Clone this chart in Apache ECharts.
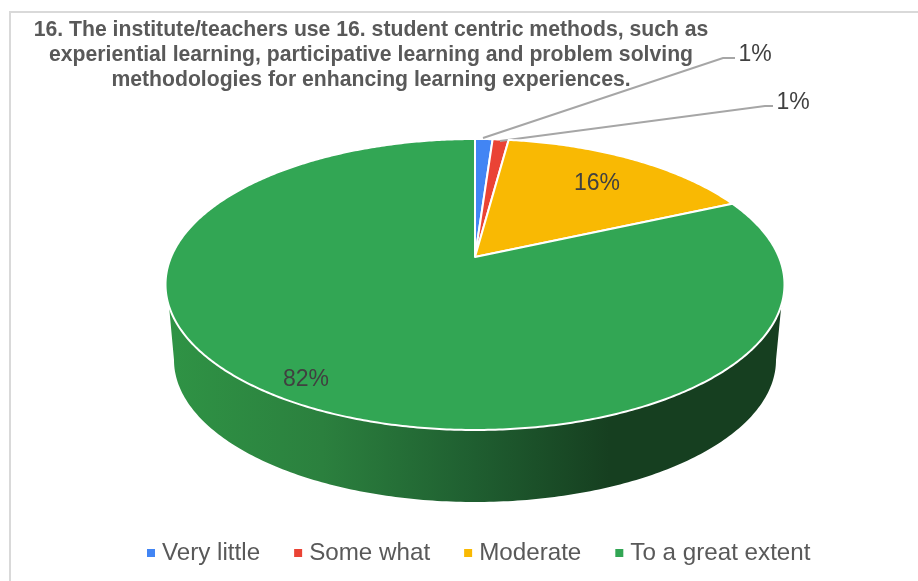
<!DOCTYPE html>
<html>
<head>
<meta charset="utf-8">
<title>Student centric methods</title>
<script src="https://cdn.jsdelivr.net/npm/echarts@6/dist/echarts.min.js"></script>
<style>
    html, body { margin: 0; padding: 0; background: #fff; }
    #chart { width: 918px; height: 581px; }
</style>
</head>
<body>
<div id="chart"></div>
<script>
// 数据
const categories = ['Very little', 'Some what', 'Moderate', 'To a great extent'];
const values = [1.1, 1.0, 16.2, 81.7];
const colors = ['#4285f4', '#ea4335', '#f9b903', '#32a654'];
const titleLines = [
    '16. The institute/teachers use 16. student centric methods, such as',
    'experiential learning, participative learning and problem solving',
    'methodologies for enhancing learning experiences.'
];

// 饼图透视参数
const apexX = 475, apexY = 257;
const persp = -0.189, scaleX = 303.9, scaleY = 140.3;
const sideCy = 360, sideRx = 301, sideRy = 142, sideTopY = 305;

// 标签位置 (with leader lines for the two small slices)
const labelPos = [[755, 55], [793, 103], [597, 184], [306, 380]];
const leaderLines = [
    [[483, 138], [723, 58], [735, 58]],
    [[500, 141], [765, 106], [773, 106]],
    null,
    null
];

const total = values.reduce((a, b) => a + b, 0);

// 圆盘上的角度 -> 屏幕坐标
function discPoint(theta) {
    const u = Math.sin(theta), v = -Math.cos(theta);
    const w = 1 + persp * v;
    return [apexX + scaleX * u / w, apexY + scaleY * v / w];
}

function arcPoints(from, to) {
    const pts = [];
    const steps = Math.max(4, Math.ceil((to - from) / 0.01));
    for (let i = 0; i <= steps; i++) {
        pts.push(discPoint(from + (to - from) * i / steps));
    }
    return pts;
}

function renderSlice(index) {
    let before = 0;
    for (let i = 0; i < index; i++) before += values[i];
    const from = before / total * Math.PI * 2;
    const to = (before + values[index]) / total * Math.PI * 2;
    const children = [];

    // 前侧面，只有跨过正下方的扇区才看得见
    if (from < Math.PI && to > Math.PI) {
        const front = arcPoints(from, to).filter(p => p[1] >= sideTopY);
        const bottom = [];
        for (let i = 200; i >= 0; i--) {
            const t = Math.PI * i / 200;
            bottom.push([apexX + sideRx * Math.cos(t), sideCy + sideRy * Math.sin(t)]);
        }
        children.push({
            type: 'polygon',
            shape: { points: front.concat(bottom) },
            style: {
                fill: new echarts.graphic.LinearGradient(0, 0, 1, 0, [
                    { offset: 0, color: '#2f9345' },
                    { offset: 0.25, color: '#2b803e' },
                    { offset: 0.5, color: '#1f5e30' },
                    { offset: 0.72, color: '#163f20' },
                    { offset: 1, color: '#163f20' }
                ])
            }
        });
    }

    children.push({
        type: 'polygon',
        shape: { points: [[apexX, apexY]].concat(arcPoints(from, to)) },
        style: { fill: colors[index], stroke: '#fff', lineWidth: 2, lineJoin: 'round' }
    });

    if (leaderLines[index]) {
        children.push({
            type: 'polyline',
            shape: { points: leaderLines[index] },
            style: { fill: null, stroke: '#a6a6a6', lineWidth: 2 }
        });
    }

    children.push({
        type: 'text',
        style: {
            x: labelPos[index][0],
            y: labelPos[index][1],
            text: Math.round(values[index] / total * 100) + '%',
            fill: '#404040',
            font: '23px "Liberation Sans"',
            align: 'center',
            verticalAlign: 'middle'
        }
    });

    return { type: 'group', children: children };
}

const chart = echarts.init(document.getElementById('chart'));

const option = {
    backgroundColor: '#ffffff',
    animation: false,
    title: {
        text: titleLines.join('\n'),
        left: 366,
        top: 13,
        textAlign: 'center',
        textStyle: {
            color: '#595959',
            fontFamily: 'Liberation Sans',
            fontWeight: 'bold',
            fontSize: 21.2,
            lineHeight: 25
        }
    },
    legend: {
        data: categories,
        left: 147,
        top: 541,
        padding: 0,
        icon: 'rect',
        itemWidth: 8,
        itemHeight: 8,
        itemGap: 34,
        textStyle: {
            color: '#595959',
            fontFamily: 'Liberation Sans',
            fontSize: 24.2,
            padding: [0, 0, 0, 2]
        }
    },
    graphic: [
        {
            type: 'polyline',
            shape: { points: [[918, 12], [10, 12], [10, 581]] },
            style: { fill: null, stroke: '#d9d9d9', lineWidth: 2 }
        }
    ],
    series: categories.map((name, i) => ({
        name: name,
        type: 'custom',
        coordinateSystem: 'none',
        itemStyle: { color: colors[i] },
        data: [values[i]],
        renderItem: function () {
            return renderSlice(i);
        }
    }))
};

chart.setOption(option);
</script>
</body>
</html>
